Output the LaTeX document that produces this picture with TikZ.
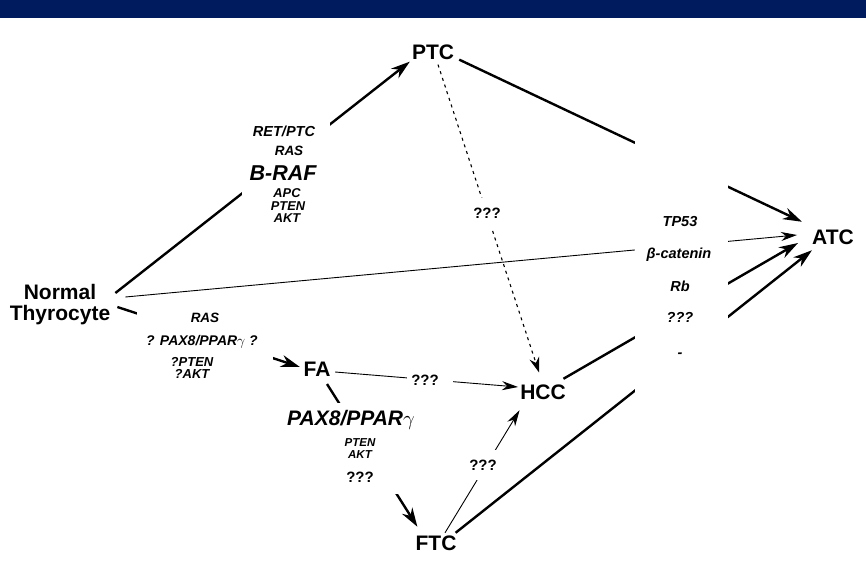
\documentclass[tikz,border=0pt]{standalone}
\usepackage{fontspec}
\setmainfont{Liberation Sans}
\usetikzlibrary{arrows.meta}
\definecolor{topbar}{RGB}{0,27,94}
\newcommand{\fsz}[1]{\fontsize{#1}{#1}\selectfont}

\begin{document}
\begin{tikzpicture}[x=1pt,y=-1pt,
  stage/.style={font=\fsz{21}\bfseries,inner sep=2pt},
  gene/.style={font=\bfseries\itshape,inner sep=0pt},
  qq/.style={font=\fsz{15}\bfseries,inner sep=0pt},
  gapbox/.style={fill=white,inner sep=0pt},
  thk/.style={line width=2.4pt,-{Stealth[length=19pt,width=12pt,inset=6pt]}},
  thn/.style={line width=0.9pt,-{Stealth[length=16pt,width=9pt,inset=5pt]}},
  dots/.style={line width=1.1pt,dash pattern=on 3pt off 4pt,-{Stealth[length=15pt,width=10pt,inset=5pt]}}]
% Progression du thyrocyte normal vers le carcinome anaplasique
\useasboundingbox (0,0) rectangle (866,561);
\fill[topbar] (0,0) rectangle (866,18);

% stades
\node[stage,align=center] (normal) at (60,305) {Normal\\Thyrocyte};
\node[stage] (ptc) at (433,52) {PTC};
\node[stage] (fa) at (317,369) {FA};
\node[stage] (hcc) at (543,392) {HCC};
\node[stage] (ftc) at (436,543) {FTC};
\node[stage] (atc) at (833,237) {ATC};

% transitions
\draw[thk] ([shift={(3,-12)}]normal.east) -- (ptc.south west);
\draw[thk] ([shift={(5,2)}]normal.east) -- ([shift={(-1.5,-2)}]fa.west);
\draw[thn] ([shift={(13,-8)}]normal.east) -- ([shift={(-13,-2)}]atc.west);
\draw[dots] ([shift={(5,3)}]ptc.south) -- ([shift={(-4,-10)}]hcc.north);
\draw[thk] ([shift={(3,-2)}]ptc.south east) -- ([shift={(-8,-5.6)}]atc.north west);
\draw[thn] ([shift={(2.5,3)}]fa.east) -- ([shift={(0,-5)}]hcc.west);
\draw[thk] ([shift={(10,5.6)}]fa.south) -- ([shift={(4,-6.6)}]ftc.north west);
\draw[thn] ([shift={(9,-0.6)}]ftc.north) -- ([shift={(1.5,8.6)}]hcc.south west);
\draw[thk] ([shift={(-4.5,-3.6)}]hcc.north east) -- ([shift={(-12,6)}]atc.west);
\draw[thk] ([shift={(-3,-0.6)}]ftc.north east) -- ([shift={(2,3.6)}]atc.south west);

% blancs sous les textes
\node[gapbox,minimum width=88pt,minimum height=124pt] (gapA) at (286,174) {};
\node[gapbox,minimum width=136pt,minimum height=92pt] (gapB) at (205,346) {};
\node[gapbox,minimum width=134pt,minimum height=91pt] (gapC) at (350,448.5) {};
\node[gapbox,minimum width=46pt,minimum height=24pt] (gapD) at (430,380) {};
\node[gapbox,minimum width=38pt,minimum height=30pt] (gapE) at (484,465) {};
\node[gapbox,minimum width=35pt,minimum height=31pt] (gapF) at (487.5,213.5) {};
\node[gapbox,minimum width=93pt,minimum height=265pt] (gapG) at (681.5,267.5) {};

% genes
\node[gene,font=\fsz{14.5}\bfseries\itshape] (retptc) at (284,131) {RET/PTC};
\node[gene,font=\fsz{13.5}\bfseries\itshape] (rasA) at (289,151) {RAS};
\node[gene,font=\fsz{21.5}\bfseries\itshape] (braf) at (283,173) {B-RAF};
\node[gene,font=\fsz{12.8}\bfseries\itshape] (apc) at (287,193) {APC};
\node[gene,font=\fsz{12.8}\bfseries\itshape] (ptenA) at (288,206) {PTEN};
\node[gene,font=\fsz{12.8}\bfseries\itshape] (aktA) at (287,218) {AKT};

\node[gene,font=\fsz{13.5}\bfseries\itshape] (rasB) at (205,318) {RAS};
\node[gene,font=\fsz{14}\bfseries\itshape] (paxB) at (202,342) {? PAX8/PPAR$\gamma$ ?};
\node[gene,font=\fsz{13}\bfseries\itshape] (ptenB) at (192,362) {?PTEN};
\node[gene,font=\fsz{13}\bfseries\itshape] (aktB) at (192,374) {?AKT};

\node[gene,font=\fsz{21}\bfseries\itshape] (paxC) at (351,420) {PAX8/PPAR$\gamma$};
\node[gene,font=\fsz{11.5}\bfseries\itshape] (ptenC) at (360,443) {PTEN};
\node[gene,font=\fsz{11.5}\bfseries\itshape] (aktC) at (360,455) {AKT};
\node[qq] (qC) at (360,477) {???};

\node[qq] (qD) at (425,380) {???};
\node[qq] (qE) at (483,465) {???};
\node[qq] (qF) at (487,213) {???};

\node[gene,font=\fsz{14.5}\bfseries\itshape] (tp53) at (680,222) {TP53};
\node[gene,font=\fsz{14.5}\bfseries\itshape] (bcat) at (679,255) {β-catenin};
\node[gene,font=\fsz{14.5}\bfseries\itshape] (rb) at (680,286) {Rb};
\node[gene,font=\fsz{14.5}\bfseries\itshape] (qG) at (680,317) {???};
\node[gene,font=\fsz{14.5}\bfseries\itshape] (dash) at (680,355) {-};
\end{tikzpicture}
\end{document}
